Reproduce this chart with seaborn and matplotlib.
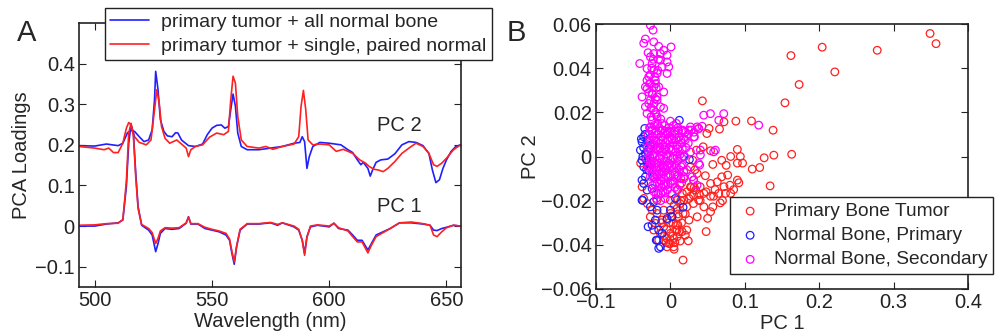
import numpy as np
import pandas as pd
import matplotlib
matplotlib.use("Agg")
import matplotlib.pyplot as plt
import seaborn as sns

# ---------------- Panel A data: PCA loadings ----------------
wl_pc2_blue = [493.3, 500, 505, 510, 512, 514, 515.5, 517, 519, 521, 523, 524.5, 525.5, 526, 527, 528, 529.5,
               531, 533, 534.5, 535.5, 537, 540, 543, 546, 548, 550, 552, 554, 555.5, 557, 558, 559, 560, 561,
               562.5, 565, 570, 575, 580, 585, 587.5, 588.5, 589.5, 590.5, 591.5, 593, 596, 600, 605, 608, 610,
               612, 613.5, 614.5, 616.5, 617.5, 618.5, 620, 622, 625, 628, 631, 634, 637, 640, 642.5, 644,
               645.5, 647, 648.5, 650, 652, 654, 656]
pc2_blue = [0.198, 0.197, 0.202, 0.198, 0.204, 0.230, 0.235, 0.233, 0.220, 0.208, 0.212, 0.237, 0.310, 0.381,
            0.336, 0.262, 0.233, 0.222, 0.220, 0.230, 0.229, 0.212, 0.198, 0.196, 0.202, 0.225, 0.241, 0.248,
            0.249, 0.241, 0.245, 0.286, 0.325, 0.295, 0.229, 0.196, 0.188, 0.188, 0.192, 0.196, 0.204, 0.206,
            0.220, 0.208, 0.142, 0.171, 0.196, 0.206, 0.204, 0.200, 0.188, 0.181, 0.163, 0.151, 0.157, 0.142,
            0.123, 0.138, 0.157, 0.163, 0.165, 0.178, 0.200, 0.208, 0.206, 0.198, 0.179, 0.138, 0.107, 0.114,
            0.142, 0.163, 0.184, 0.196, 0.200]

wl_pc2_red = [493.3, 500, 504, 506, 508, 510, 512, 513.5, 514.5, 515.5, 517, 519, 522, 524, 525.5, 526.5, 527.5,
              528.5, 530, 532, 535, 537, 539, 540, 541, 543, 546, 549, 552, 555, 557, 558, 559, 560, 561, 562.5,
              565, 570, 573, 576, 580, 585, 587, 588, 589, 590, 591, 593, 596, 600, 603, 606, 610, 613, 615.5,
              617, 619, 621, 623, 625, 628, 631, 634, 637, 640, 642.5, 644.5, 646, 648, 650, 653, 656]
pc2_red = [0.196, 0.192, 0.188, 0.192, 0.181, 0.181, 0.204, 0.241, 0.255, 0.249, 0.220, 0.206, 0.200, 0.212,
           0.286, 0.336, 0.303, 0.245, 0.216, 0.204, 0.212, 0.202, 0.192, 0.171, 0.188, 0.196, 0.200, 0.219,
           0.229, 0.225, 0.233, 0.310, 0.369, 0.352, 0.270, 0.212, 0.196, 0.192, 0.196, 0.189, 0.196, 0.202,
           0.220, 0.295, 0.334, 0.286, 0.212, 0.200, 0.202, 0.200, 0.184, 0.189, 0.179, 0.163, 0.155, 0.147,
           0.140, 0.138, 0.134, 0.142, 0.159, 0.179, 0.192, 0.204, 0.196, 0.179, 0.151, 0.147, 0.155, 0.167,
           0.188, 0.200]

wl_pc1_blue = [493.3, 500, 505, 510, 512, 513.5, 514.5, 515.5, 516.5, 517.5, 518.5, 520, 523, 524.5, 526, 527,
               528, 530, 533, 536, 539, 540, 541, 544, 547, 550, 553, 556, 557.5, 558.5, 559.5, 560.5, 562, 565,
               570, 575, 578, 580, 585, 587, 588.5, 589.5, 590.5, 592, 595, 600, 602, 604, 608, 610, 612, 614,
               616.5, 618, 620, 623, 626, 630, 635, 640, 643, 644.5, 646, 648, 650, 653, 656]
pc1_blue = [0.000, 0.000, 0.005, 0.008, 0.015, 0.097, 0.204, 0.249, 0.229, 0.130, 0.048, 0.002, -0.010, -0.022,
            -0.063, -0.043, -0.018, -0.006, -0.008, -0.006, 0.007, 0.023, 0.005, 0.005, -0.006, -0.010, -0.014,
            -0.022, -0.035, -0.067, -0.094, -0.051, -0.010, 0.005, 0.005, 0.008, 0.002, 0.008, -0.002, -0.010,
            -0.035, -0.067, -0.026, -0.002, 0.002, -0.002, 0.007, -0.006, -0.010, -0.022, -0.035, -0.035, -0.059,
            -0.043, -0.022, -0.014, -0.006, 0.008, 0.008, 0.005, 0.002, -0.010, -0.011, -0.006, -0.003, 0.002,
            0.000]

wl_pc1_red = [493.3, 500, 505, 510, 512, 513.5, 514.5, 515.5, 516.5, 517.5, 518.5, 520, 523, 524.5, 526, 527,
              528, 530, 533, 536, 539, 540, 541, 544, 547, 550, 553, 556, 557.5, 558.5, 559.5, 560.5, 562, 565,
              570, 575, 578, 580, 585, 587, 588.5, 589.5, 590.5, 592, 595, 600, 602, 604, 608, 610, 612, 614,
              616.5, 618, 620, 623, 626, 630, 635, 640, 643, 644.5, 646, 648, 650, 653, 656]
pc1_red = [0.002, 0.003, 0.006, 0.007, 0.016, 0.110, 0.229, 0.253, 0.222, 0.120, 0.043, 0.004, -0.006, -0.016,
           -0.043, -0.030, -0.012, -0.004, -0.005, -0.004, 0.008, 0.022, 0.006, 0.006, -0.003, -0.008, -0.012,
           -0.018, -0.032, -0.062, -0.088, -0.050, -0.008, 0.006, 0.006, 0.009, 0.004, 0.008, 0.000, -0.008,
           -0.035, -0.072, -0.028, 0.000, 0.003, 0.000, 0.007, -0.004, -0.012, -0.026, -0.039, -0.039, -0.066,
           -0.047, -0.026, -0.016, -0.006, 0.008, 0.010, 0.006, 0.002, -0.022, -0.026, -0.014, -0.004, 0.002,
           0.000]

# ---------------- Panel B data: PC scores ----------------
tumor_pc1 = [0.349, 0.357, 0.278, 0.204, 0.221, 0.162, 0.173, 0.154, 0.138, 0.109, 0.088, 0.139, 0.163, 0.126,
             0.120, 0.110, 0.134, 0.090, 0.094, 0.097, 0.090, 0.081, 0.075, 0.069, 0.057, 0.054, 0.044, 0.035,
             0.043, 0.066, 0.052, 0.090, 0.092, 0.080, 0.074, 0.065, 0.058, 0.067, 0.057, 0.054, 0.050, 0.048,
             0.036, 0.038, 0.045, 0.054, 0.047, 0.036, 0.031, 0.027, 0.027, 0.022, 0.025, 0.022, 0.024, 0.017,
             0.013, 0.009, 0.0045, -0.002, -0.0045, 0.000, 0.007, 0.0036, -0.009, -0.0134, -0.0157, -0.0045,
             0.002, 0.011, 0.017, 0.013, 0.009, 0.018, 0.016, 0.022, 0.031, 0.009, -0.009, -0.018, -0.0246,
             -0.031, -0.0358, -0.038, -0.040, 0.045, 0.040, 0.063, 0.072, 0.081, 0.031, 0.018, 0.027, 0.009,
             0.000, 0.000, -0.0045, -0.011, -0.020, 0.009, 0.0157, 0.020, 0.0045, 0.000, -0.009, -0.0224,
             -0.018, -0.027, 0.069, 0.077, 0.054, 0.039, 0.034, 0.030, 0.049, 0.038, 0.072, 0.010, 0.005,
             -0.012, -0.006, 0.015, 0.028, 0.033,
             -0.005, 0.003, 0.008, -0.002, 0.012, 0.006, -0.008, 0.015, 0.001, 0.010, 0.020, 0.005, 0.014,
             0.025, 0.032, 0.040, 0.048, 0.060, 0.070, 0.085]
tumor_pc2 = [0.0557, 0.0511, 0.0481, 0.0495, 0.0383, 0.0457, 0.0326, 0.0243, 0.0119, 0.0161, 0.0160, 0.0006,
             0.0010, -0.0006, -0.0050, -0.0057, -0.0133, 0.0032, 0.0000, -0.0030, -0.0030, 0.0000, -0.0040,
             -0.0017, -0.0036, 0.0026, 0.0044, 0.0029, 0.0252, 0.0124, 0.0127, -0.0107, -0.0119, -0.0130,
             -0.0167, -0.0167, -0.0180, -0.0210, -0.0228, -0.0250, -0.0280, -0.0340, -0.0273, -0.0198, -0.0167,
             -0.0122, -0.0087, -0.0077, -0.0107, -0.0137, -0.0180, -0.0228, -0.0288, -0.0333, -0.0382, -0.0469,
             -0.0383, -0.0363, -0.0409, -0.0394, -0.0371, -0.0348, -0.0333, -0.0303, -0.0318, -0.0348, -0.0379,
             -0.0409, -0.0273, -0.0273, -0.0258, -0.0213, -0.0198, -0.0198, -0.0167, -0.0160, -0.0175, -0.0235,
             -0.0243, -0.0258, -0.0243, -0.0213, -0.0190, -0.0137, -0.0030, -0.0228, -0.0137, -0.0115, -0.0137,
             -0.0167, -0.0213, -0.0092, -0.0047, -0.0152, -0.0198, -0.0258, -0.0288, -0.0288, -0.0303, -0.0333,
             -0.0340, -0.0356, -0.0371, -0.0394, -0.0379, -0.0333, -0.0198, -0.0273, -0.0092, -0.0084, -0.0180,
             -0.0172, -0.0152, -0.0017, 0.0104, 0.0127, 0.0157, -0.0310, -0.0420, -0.0300, -0.0390, -0.0120,
             -0.0140, -0.0060,
             -0.033, -0.036, -0.031, -0.030, -0.034, -0.039, -0.036, -0.030, -0.027, -0.026, -0.026, -0.022,
             -0.020, -0.019, -0.014, -0.020, -0.016, -0.015, -0.020, -0.015]

normal_pri_pc1 = [-0.0359, -0.0381, -0.0314, -0.0269, -0.0403, -0.0336, -0.0381, -0.0314, -0.0359, -0.0291,
                  -0.0336, -0.0359, -0.0314, -0.0246, -0.0381, -0.0224, -0.0269, -0.0179, 0.000, 0.0067, 0.0022,
                  -0.0045, -0.0202, -0.0246, -0.0157, -0.0112, -0.0179, -0.0134, 0.0170, -0.0269, -0.0224,
                  -0.0381, -0.0291, -0.0345, 0.0120, 0.0255, 0.0180, -0.0372, -0.0300, -0.0157, -0.0190, -0.0370,
                  -0.0330, -0.0360, -0.0390, -0.0340, -0.0320, -0.0300]
normal_pri_pc2 = [0.0089, 0.0066, 0.0074, 0.0051, 0.0029, 0.0014, -0.0017, -0.0024, -0.0047, -0.0062, -0.0092,
                  -0.0122, -0.0152, -0.0145, -0.0198, -0.0205, -0.0228, -0.0243, -0.0243, -0.0190, -0.0273,
                  -0.0281, -0.0288, -0.0311, -0.0333, -0.0348, -0.0379, -0.0409, -0.0230, -0.0032, -0.0092,
                  -0.0107, 0.0036, 0.0127, 0.0164, -0.0014, 0.0000, -0.0198, -0.0318, -0.0416, -0.0379, 0.0000,
                  -0.0010, 0.0040, 0.0080, 0.0100, -0.0060, 0.0020]

normal_sec_pc1 = [-0.0269, -0.0233, -0.0336, -0.0358, -0.0224, -0.0157, -0.0090, 0.0009, -0.0134, -0.0224,
                  -0.0269, -0.0412, -0.0045, -0.0112, -0.0314, -0.0224, -0.0045, -0.0291, -0.0202, -0.0269,
                  -0.0157, -0.0090, -0.0314, -0.0381, -0.0246, -0.0179, -0.0291, -0.0134, -0.0224, -0.0314,
                  -0.0179, -0.0246, -0.0112, -0.0269, -0.0202, -0.0336, -0.0269, -0.0224, -0.0314, -0.0179,
                  -0.0246, -0.0134, -0.0045, -0.0022, -0.0336, -0.0090, -0.026, -0.019, -0.013,
                  0.0448, 0.0538, 0.0717, 0.0650, 0.1187, 0.0605, 0.0403, 0.0380, 0.0314, 0.0380, 0.0246, 0.0314,
                  0.0358, 0.0179, 0.0269, 0.0358, 0.0426, 0.0323, 0.0403, 0.0582, 0.0394, 0.0291, 0.0125,
                  -0.028, -0.022, -0.015, -0.008, -0.002, 0.004, 0.010, 0.016, 0.020,
                  -0.030, -0.024, -0.018, -0.012, -0.006, 0.000, 0.006, 0.012, 0.018, 0.024,
                  -0.027, -0.021, -0.015, -0.009, -0.003, 0.003, 0.009, 0.015, 0.021,
                  -0.029, -0.023, -0.017, -0.011, -0.005, 0.001, 0.007, 0.013, 0.019,
                  -0.026, -0.020, -0.014, -0.008, -0.002, 0.004, 0.010, 0.016,
                  -0.030, -0.024, -0.018, -0.012, -0.006, 0.000, 0.006, 0.012,
                  -0.027, -0.021, -0.015, -0.009, -0.003, 0.003, 0.009, 0.014,
                  -0.024, -0.018, -0.012, -0.006, 0.000, 0.006,
                  -0.022, -0.016, -0.010, -0.004, 0.002,
                  -0.019, -0.013, -0.007,
                  -0.032, -0.031, -0.025, -0.017, -0.011, 0.000, 0.008, 0.028, 0.032, 0.024, 0.027, 0.022, 0.018,
                  0.010, -0.020, -0.014, -0.007, -0.016, -0.010, -0.004, -0.020, -0.013, -0.008, 0.002, -0.004,
                  -0.025, -0.028,
                  -0.025, -0.019, -0.013, -0.007, -0.001, 0.005, 0.011, 0.017,
                  -0.028, -0.022, -0.016, -0.010, -0.004, 0.002, 0.008, 0.014, 0.020,
                  -0.026, -0.020, -0.014, -0.008, -0.002, 0.004, 0.010, 0.016,
                  -0.027, -0.021, -0.015, -0.009, -0.003, 0.003, 0.009, 0.015,
                  -0.028, -0.022, -0.016, -0.010, -0.004, 0.002, 0.008, 0.014,
                  -0.024, -0.018, -0.012, -0.006, 0.000, 0.006, 0.011,
                  -0.021, -0.015, -0.009, -0.003, 0.003,
                  -0.019, -0.013, -0.007,
                  -0.024, -0.019, -0.028, -0.021, -0.025, -0.017, -0.029, -0.022, -0.018, -0.026, -0.020, -0.023,
                  -0.030, -0.016, -0.027, -0.020]
normal_sec_pc2 = [0.0594, 0.0572, 0.0532, 0.0513, 0.0519, 0.0499, 0.0481, 0.0496, 0.0466, 0.0466, 0.0451,
                  0.0421, 0.0428, 0.0406, 0.0398, 0.0391, 0.0376, 0.0361, 0.0345, 0.0330, 0.0315, 0.0292,
                  0.0307, 0.0270, 0.0285, 0.0255, 0.0240, 0.0225, 0.0210, 0.0195, 0.0179, 0.0164, 0.0149,
                  0.0134, 0.0262, 0.0225, 0.0255, 0.0315, 0.0345, 0.0376, 0.0421, 0.0436, 0.0459, 0.0406,
                  0.0315, 0.0218, 0.018, 0.019, 0.017,
                  0.0187, 0.0194, 0.0194, 0.0164, 0.0142, 0.0029, 0.0007, -0.0032, 0.0089, 0.0126, 0.0119,
                  -0.0107, -0.0130, -0.0069, 0.0134, 0.0134, 0.0137, 0.0089, 0.0029, 0.0021, -0.0039, -0.0092,
                  -0.0130,
                  0.013, 0.014, 0.013, 0.014, 0.013, 0.014, 0.013, 0.012, 0.011,
                  0.010, 0.009, 0.010, 0.009, 0.010, 0.011, 0.010, 0.009, 0.008, 0.010,
                  0.006, 0.005, 0.006, 0.005, 0.007, 0.006, 0.005, 0.006, 0.004,
                  0.002, 0.001, 0.003, 0.002, 0.001, 0.003, 0.002, 0.001, 0.000,
                  -0.002, -0.003, -0.001, -0.002, -0.003, -0.001, -0.002, -0.004,
                  -0.005, -0.006, -0.005, -0.007, -0.006, -0.005, -0.007, -0.006,
                  -0.009, -0.010, -0.008, -0.010, -0.009, -0.011, -0.009, -0.010,
                  -0.013, -0.012, -0.014, -0.013, -0.012, -0.014,
                  -0.016, -0.017, -0.016, -0.015, -0.017,
                  -0.019, -0.020, -0.019,
                  -0.001, 0.004, 0.012, 0.015, 0.012, 0.016, 0.015, 0.012, 0.011, 0.006, 0.002, -0.006, -0.010,
                  -0.015, 0.007, 0.004, 0.003, -0.003, -0.005, -0.004, -0.008, -0.011, -0.007, 0.008, 0.011,
                  -0.004, 0.000,
                  0.0115, 0.0115, 0.0115, 0.0115, 0.0115, 0.0115, 0.0115, 0.0115,
                  0.0075, 0.0075, 0.0075, 0.0075, 0.0075, 0.0075, 0.0075, 0.0075, 0.0075,
                  0.0035, 0.0035, 0.0035, 0.0035, 0.0035, 0.0035, 0.0035, 0.0035,
                  -0.0005, -0.0005, -0.0005, -0.0005, -0.0005, -0.0005, -0.0005, -0.0005,
                  -0.0045, -0.0045, -0.0045, -0.0045, -0.0045, -0.0045, -0.0045, -0.0045,
                  -0.0085, -0.0085, -0.0085, -0.0085, -0.0085, -0.0085, -0.0085,
                  -0.0125, -0.0125, -0.0125, -0.0125, -0.0125,
                  -0.0165, -0.0165, -0.0165,
                  0.028, 0.031, 0.033, 0.036, 0.040, 0.039, 0.029, 0.024, 0.027, 0.022, 0.020, 0.044,
                  0.047, 0.044, 0.037, 0.033]

line_labels = ["primary tumor + all normal bone", "primary tumor + single, paired normal"]
group_labels = ["Primary Bone Tumor", "Normal Bone, Primary", "Normal Bone, Secondary"]
wl_ticks = [500, 550, 600, 650]
load_ticks = [-0.1, 0, 0.1, 0.2, 0.3, 0.4]
pc1_ticks = [-0.1, 0, 0.1, 0.2, 0.3, 0.4]
pc2_ticks = [-0.06, -0.04, -0.02, 0, 0.02, 0.04, 0.06]

# ---------------- Style ----------------
sns.set_style("ticks")
plt.rcParams["font.family"] = ["Liberation Sans", "DejaVu Sans"]
FS = 14.5
plt.rcParams.update({
    "xtick.direction": "in", "ytick.direction": "in",
    "xtick.top": True, "ytick.right": True,
    "xtick.major.size": 5, "ytick.major.size": 5,
    "xtick.major.width": 0.8, "ytick.major.width": 0.8,
    "xtick.color": "#222222", "ytick.color": "#222222",
    "axes.edgecolor": "#222222", "axes.linewidth": 1.2,
    "font.size": FS,
})

BLUE = "#2020ff"
RED = "#ff2020"
MAG = "#ff00ff"

fig = plt.figure(figsize=(10.02, 3.36), dpi=100)
axA = fig.add_axes([79 / 1002, 49 / 336, 382 / 1002, 264 / 336])
axB = fig.add_axes([596 / 1002, 47 / 336, 372 / 1002, 265 / 336])


def fmt(v, pos=None):
    s = f"{v:g}"
    return s.replace("-", "\u2212")


# Panel A
for wl, vals, c, lab in [(wl_pc2_blue, pc2_blue, BLUE, line_labels[0]),
                         (wl_pc2_red, pc2_red, RED, line_labels[1])]:
    sns.lineplot(x=wl, y=vals, ax=axA, color=c, lw=1.2, sort=False, estimator=None, label=lab)
for wl, vals, c in [(wl_pc1_blue, pc1_blue, BLUE), (wl_pc1_red, pc1_red, RED)]:
    sns.lineplot(x=wl, y=vals, ax=axA, color=c, lw=1.2, sort=False, estimator=None)

axA.set_xlim(493.3, 656.2)
axA.set_ylim(-0.15, 0.5)
axA.set_xticks(wl_ticks)
axA.set_yticks(load_ticks)
axA.yaxis.set_major_formatter(plt.FuncFormatter(fmt))
axA.tick_params(labelsize=FS, pad=3)
axA.set_xlabel("Wavelength (nm)", fontsize=FS, labelpad=1.5)
axA.set_ylabel("PCA Loadings", fontsize=FS, labelpad=3)
axA.text(630, 0.247, "PC 2", fontsize=FS, ha="center", va="center")
axA.text(630, 0.048, "PC 1", fontsize=FS, ha="center", va="center")
for s in axA.spines.values():
    s.set_visible(True)
legA = axA.legend(loc="upper left", bbox_to_anchor=(105 / 1002, 1 - 8 / 336),
                  bbox_transform=fig.transFigure, borderaxespad=0, frameon=True, fancybox=False,
                  edgecolor="#222222", framealpha=1, fontsize=14, handlelength=2.0, handletextpad=0.6,
                  labelspacing=0.3, borderpad=0.28)
legA.get_frame().set_linewidth(1.0)

# Panel B
for xs, ys, c, lab in [(tumor_pc1, tumor_pc2, RED, group_labels[0]),
                       (normal_pri_pc1, normal_pri_pc2, BLUE, group_labels[1]),
                       (normal_sec_pc1, normal_sec_pc2, MAG, group_labels[2])]:
    sns.scatterplot(x=xs, y=ys, ax=axB, marker="o", s=30, facecolor="none", edgecolor=c,
                    linewidth=0.9, label=lab)

axB.set_xlim(-0.1, 0.4)
axB.set_ylim(-0.06, 0.06)
axB.set_xticks(pc1_ticks)
axB.set_yticks(pc2_ticks)
axB.xaxis.set_major_formatter(plt.FuncFormatter(fmt))
axB.yaxis.set_major_formatter(plt.FuncFormatter(fmt))
axB.tick_params(labelsize=FS, pad=3)
axB.set_xlabel("PC 1", fontsize=FS, labelpad=1.5)
axB.set_ylabel("PC 2", fontsize=FS, labelpad=1)
for s in axB.spines.values():
    s.set_visible(True)
legB = axB.legend(loc="upper left", bbox_to_anchor=(730 / 1002, 1 - 197 / 336),
                  bbox_transform=fig.transFigure, borderaxespad=0, frameon=True, fancybox=False,
                  edgecolor="#222222", framealpha=1, fontsize=13.8, handlelength=1.5, handletextpad=0.5,
                  labelspacing=0.35, borderpad=0.3, markerscale=1.0)
legB.get_frame().set_linewidth(1.0)

fig.text(17 / 1002, 1 - 33 / 336, "A", fontsize=21, ha="left", va="center")
fig.text(507 / 1002, 1 - 33 / 336, "B", fontsize=21, ha="left", va="center")

fig.savefig("out.png", dpi=100)
